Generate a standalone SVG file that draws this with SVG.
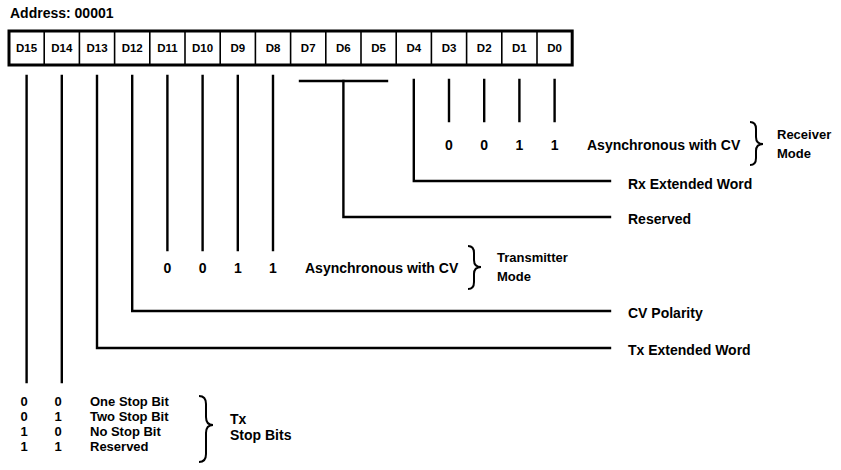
<svg xmlns="http://www.w3.org/2000/svg" width="841" height="470" viewBox="0 0 841 470">
<style>
text{font-family:"Liberation Sans",Arial,sans-serif;font-weight:bold;fill:#000}
.t{font-size:14px}
.b{font-size:13px}
.s{font-size:13px}
.c{font-size:11.5px;text-anchor:middle}
.d{font-size:14px;text-anchor:middle}
.e{font-size:13px;text-anchor:middle}
.ln{stroke:#000;stroke-width:2.4;fill:none;stroke-linecap:square}
.br{stroke:#000;stroke-width:2;fill:none}
</style>
<rect width="841" height="470" fill="#fff"/>
<text id="address" class="t" x="10" y="18">Address: 00001</text>
<g id="register">
<rect x="9" y="31" width="563.2" height="34" fill="#fff" stroke="#000" stroke-width="3"/>
<g stroke="#000" stroke-width="1.6">
<line x1="44.2" y1="31" x2="44.2" y2="65"/><line x1="79.4" y1="31" x2="79.4" y2="65"/><line x1="114.6" y1="31" x2="114.6" y2="65"/><line x1="149.8" y1="31" x2="149.8" y2="65"/><line x1="185" y1="31" x2="185" y2="65"/><line x1="220.2" y1="31" x2="220.2" y2="65"/><line x1="255.4" y1="31" x2="255.4" y2="65"/><line x1="290.6" y1="31" x2="290.6" y2="65"/><line x1="325.8" y1="31" x2="325.8" y2="65"/><line x1="361" y1="31" x2="361" y2="65"/><line x1="396.2" y1="31" x2="396.2" y2="65"/><line x1="431.4" y1="31" x2="431.4" y2="65"/><line x1="466.6" y1="31" x2="466.6" y2="65"/><line x1="501.8" y1="31" x2="501.8" y2="65"/><line x1="537" y1="31" x2="537" y2="65"/>
</g>
<text class="c" x="26.6" y="52">D15</text><text class="c" x="61.8" y="52">D14</text><text class="c" x="97" y="52">D13</text><text class="c" x="132.2" y="52">D12</text><text class="c" x="167.4" y="52">D11</text><text class="c" x="202.6" y="52">D10</text><text class="c" x="237.8" y="52">D9</text><text class="c" x="273" y="52">D8</text><text class="c" x="308.2" y="52">D7</text><text class="c" x="343.4" y="52">D6</text><text class="c" x="378.6" y="52">D5</text><text class="c" x="413.8" y="52">D4</text><text class="c" x="449" y="52">D3</text><text class="c" x="484.2" y="52">D2</text><text class="c" x="519.4" y="52">D1</text><text class="c" x="554.6" y="52">D0</text>
</g>
<g id="connectors">
<path class="ln" d="M26.6,76V382M61.8,76V382M97,76V348H610M132.2,76V311H610M167.4,76V250M202.6,76V250M237.8,76V250M273,76V250M343.4,81V217H610M413.8,80V181H610M449,80V121M484.2,80V121M519.4,80V121M554.6,80V121"/>
<path class="ln" stroke-width="1.6" d="M300,81H387"/>
</g>
<g id="receiver-mode">
<text class="d" x="449" y="150">0</text><text class="d" x="484.2" y="150">0</text><text class="d" x="519.4" y="150">1</text><text class="d" x="554.6" y="150">1</text>
<text class="t" x="587" y="150">Asynchronous with CV</text>
<path class="br" d="M750,122Q756,122 756,129V137Q756,144 763,144Q756,144 756,151V158Q756,165 750,165"/>
<text class="s" x="777" y="139">Receiver</text>
<text class="s" x="777" y="158">Mode</text>
</g>
<g id="rx-ext"><text class="t" x="628" y="189">Rx Extended Word</text></g>
<g id="reserved"><text class="t" x="628" y="224">Reserved</text></g>
<g id="transmitter-mode">
<text class="d" x="167.4" y="273">0</text><text class="d" x="202.6" y="273">0</text><text class="d" x="237.8" y="273">1</text><text class="d" x="273" y="273">1</text>
<text class="t" x="305" y="273">Asynchronous with CV</text>
<path class="br" d="M468,246Q474,246 474,253V260Q474,267 481,267Q474,267 474,274V282Q474,289 468,289"/>
<text class="s" x="497" y="262">Transmitter</text>
<text class="s" x="497" y="281">Mode</text>
</g>
<g id="cv-polarity"><text class="t" x="628" y="318">CV Polarity</text></g>
<g id="tx-ext"><text class="t" x="628" y="355">Tx Extended Word</text></g>
<g id="tx-stop-bits">
<text class="e" x="24" y="406">0</text><text class="e" x="58" y="406">0</text><text class="b" x="90" y="406">One Stop Bit</text>
<text class="e" x="24" y="421">0</text><text class="e" x="58" y="421">1</text><text class="b" x="90" y="421">Two Stop Bit</text>
<text class="e" x="24" y="436">1</text><text class="e" x="58" y="436">0</text><text class="b" x="90" y="436">No Stop Bit</text>
<text class="e" x="24" y="451">1</text><text class="e" x="58" y="451">1</text><text class="b" x="90" y="451">Reserved</text>
<path class="br" d="M199,396Q206,396 206,404V417Q206,425 213,425Q206,425 206,433V454Q206,462 199,462"/>
<text class="t" x="230" y="424">Tx</text>
<text class="t" x="230" y="440">Stop Bits</text>
</g>
</svg>
